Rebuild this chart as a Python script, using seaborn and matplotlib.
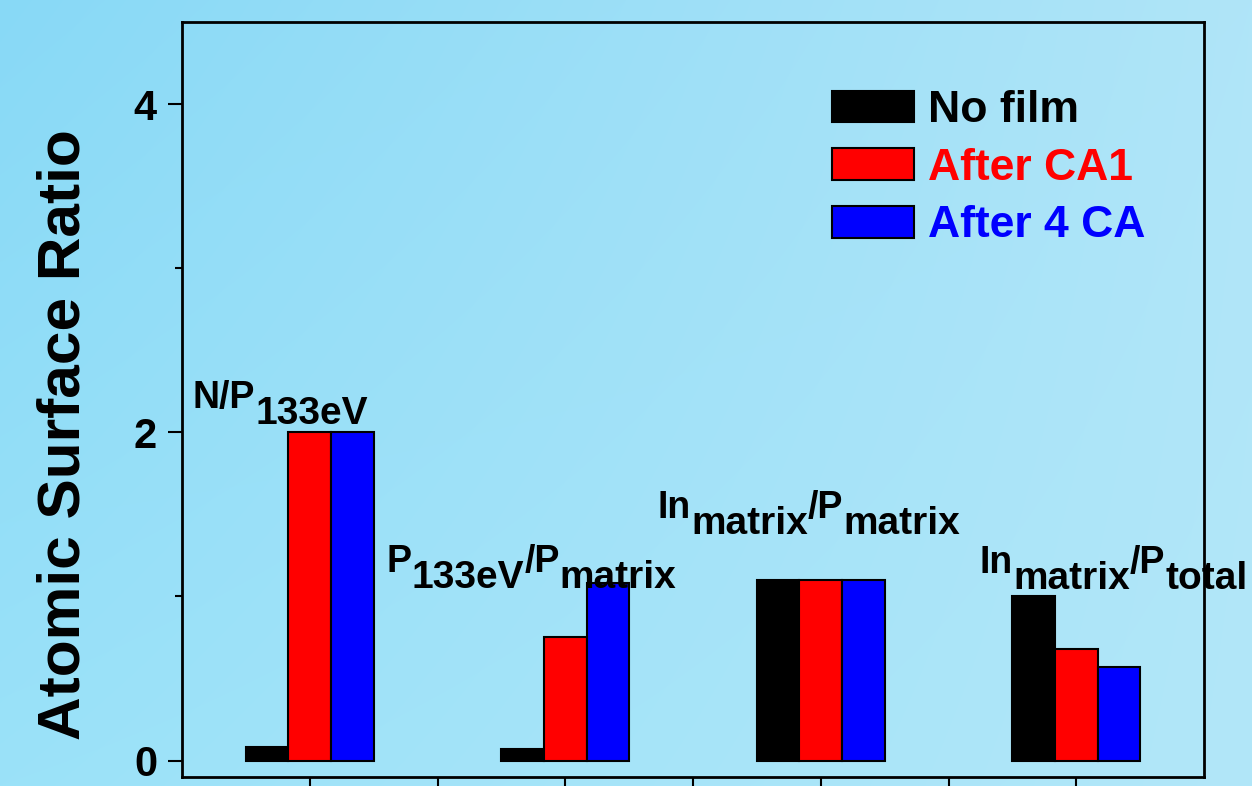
import numpy as np
import pandas as pd
import matplotlib
matplotlib.use("Agg")
import matplotlib.pyplot as plt
import seaborn as sns

# ---- data -------------------------------------------------------------
groups = ["N/P133eV", "P133eV/Pmatrix", "Inmatrix/Pmatrix", "Inmatrix/Ptotal"]
conditions = ["No film", "After CA1", "After 4 CA"]
no_film = [0.08, 0.07, 1.10, 1.00]
after_ca1 = [2.00, 0.75, 1.10, 0.68]
after_4ca = [2.00, 1.08, 1.10, 0.57]
bar_colors = ["#000000", "#ff0000", "#0000ff"]

# group annotations: (text, is_subscript)
group_label_parts = [
    [("N/P", False), ("133eV", True)],
    [("P", False), ("133eV", True), ("/P", False), ("matrix", True)],
    [("In", False), ("matrix", True), ("/P", False), ("matrix", True)],
    [("In", False), ("matrix", True), ("/P", False), ("total", True)],
]
group_label_xy = [(-0.457, 2.146), (0.301, 1.147), (1.363, 1.476), (2.623, 1.141)]

ylabel = "Atomic Surface Ratio"

# ---- styling ----------------------------------------------------------
sns.set_style("ticks")
plt.rcParams["font.family"] = ["Liberation Sans", "DejaVu Sans"]
plt.rcParams["font.weight"] = "bold"
plt.rcParams["axes.labelweight"] = "bold"
plt.rcParams["text.color"] = "black"
plt.rcParams["axes.labelcolor"] = "black"
plt.rcParams["xtick.color"] = "black"
plt.rcParams["ytick.color"] = "black"

W, H, DPI = 1252, 786, 100
fig = plt.figure(figsize=(W / DPI, H / DPI), dpi=DPI)
fig.patch.set_alpha(0)

# soft blue backdrop, darker at the upper left
tl = np.array([136, 217, 246]) / 255
tr = np.array([176, 229, 248]) / 255
bl = np.array([155, 226, 249]) / 255
br = np.array([178, 231, 249]) / 255
u = np.linspace(0, 1, W)[None, :, None]
v = np.linspace(0, 1, H)[:, None, None]
bg = (1 - v) * ((1 - u) * tl + u * tr) + v * ((1 - u) * bl + u * br)
fig.figimage(bg, xo=0, yo=0, origin="upper", zorder=0)

ax = fig.add_axes([182 / W, 9 / H, 1022 / W, 755 / H])
ax.set_facecolor("none")
ax.set_zorder(1)

df = pd.DataFrame({
    "group": np.repeat(groups, len(conditions)),
    "condition": conditions * len(groups),
    "value": np.column_stack([no_film, after_ca1, after_4ca]).ravel(),
})

sns.barplot(
    data=df, x="group", y="value", hue="condition", order=groups,
    hue_order=conditions, palette=bar_colors, width=0.5, dodge=True,
    edgecolor="black", linewidth=1.5, saturation=1, errorbar=None, ax=ax,
)

ax.set_xlim(-0.5, 3.5)
ax.set_ylim(-0.1, 4.5)
ax.set_xticks(np.arange(0, 3.01, 0.5))
ax.tick_params(axis="x", which="major", length=12, width=1.5, direction="out",
               labelbottom=False, color="black")
ax.set_yticks([0, 2, 4])
ax.set_yticks([1, 3], minor=True)
ax.tick_params(axis="y", which="major", length=10, width=1.5, direction="out",
               pad=8, labelsize=30, color="black", labelcolor="black")
ax.tick_params(axis="y", which="minor", length=5, width=1.5, direction="out",
               color="black")
for lab in ax.get_yticklabels():
    lab.set_fontweight("bold")
for sp in ax.spines.values():
    sp.set_visible(True)
    sp.set_linewidth(2)
    sp.set_color("black")

ax.set_xlabel("")
ax.set_ylabel(ylabel, fontsize=43.5, fontweight="bold", color="black")
ax.yaxis.set_label_coords(-0.089, 0.4536)


def draw_group_label(ax, x, y, parts, base_size=27, sub_size=28, sub_drop=11):
    prev = None
    for text, is_sub in parts:
        size = sub_size if is_sub else base_size
        dy = -sub_drop if is_sub else 0
        if prev is None:
            t = ax.annotate(text, xy=(x, y), xycoords="data", xytext=(0, dy),
                            textcoords="offset points", ha="left", va="baseline",
                            fontsize=size, fontweight="bold", color="black",
                            annotation_clip=False)
        else:
            t = ax.annotate(text, xy=(1, y), xycoords=(prev, "data"), xytext=(0, dy),
                            textcoords="offset points", ha="left", va="baseline",
                            fontsize=size, fontweight="bold", color="black",
                            annotation_clip=False)
        prev = t


for (gx, gy), parts in zip(group_label_xy, group_label_parts):
    draw_group_label(ax, gx, gy, parts)

handles, labels = ax.get_legend_handles_labels()
leg = ax.legend(handles, labels, loc="upper left", bbox_to_anchor=(0.636, 0.910),
                frameon=False, handlelength=1.85, handleheight=0.72,
                handletextpad=0.3, labelspacing=0.375, borderpad=0, borderaxespad=0,
                prop={"weight": "bold", "size": 32})
for txt, c in zip(leg.get_texts(), bar_colors):
    txt.set_color(c)
for h in leg.legend_handles:
    h.set_edgecolor("black")
    h.set_linewidth(1.5)

fig.savefig("out.png", dpi=DPI)
